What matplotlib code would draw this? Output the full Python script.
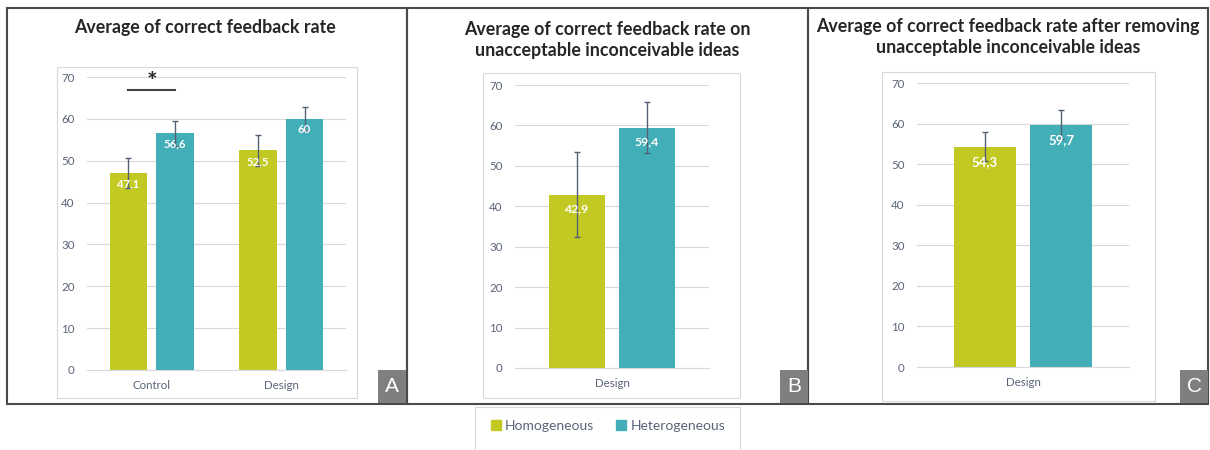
import matplotlib.pyplot as plt
from matplotlib.patches import Rectangle, Patch

# donnees
categories_A = ['Control', 'Design']
homog_A = [47.1, 52.5]
hetero_A = [56.6, 60]
err_homog_A = [3.5, 3.7]
err_hetero_A = [3.0, 2.8]

categories_B = ['Design']
homog_B = [42.9]
hetero_B = [59.4]
err_homog_B = [10.5]
err_hetero_B = [6.3]

categories_C = ['Design']
homog_C = [54.3]
hetero_C = [59.7]
err_homog_C = [3.5]
err_hetero_C = [3.6]

titles = ['Average of correct feedback rate',
          'Average of correct feedback rate on\nunacceptable inconceivable ideas',
          'Average of correct feedback rate after removing\nunacceptable inconceivable ideas']

C_HOM = '#C2C923'
C_HET = '#41AEB8'
C_TXT = '#5a6478'
C_ERR = '#566075'
C_GRID = '#D9D9D9'

W, H = 1210, 450
plt.rcParams['font.family'] = ['Lato', 'DejaVu Sans']

fig = plt.figure(figsize=(W / 100, H / 100), dpi=100)


def fbox(x0, y0, x1, y1):
    # pixels -> coordonnees figure
    return [x0 / W, 1 - y1 / H, (x1 - x0) / W, (y1 - y0) / H]


def rect(x0, y0, x1, y1, **kw):
    b = fbox(x0, y0, x1, y1)
    fig.add_artist(Rectangle((b[0], b[1]), b[2], b[3], transform=fig.transFigure, **kw))


def fmt(v):
    return ('%g' % v).replace('.', ',')


def panel(pos, cats, hom, het, ehom, ehet, lblsize, lbloff):
    ax = fig.add_axes(fbox(*pos))
    x = list(range(len(cats)))
    w, off = 0.29, 0.18
    xh = [i - off for i in x]
    xt = [i + off for i in x]
    ax.bar(xh, hom, w, color=C_HOM, zorder=2, label='Homogeneous')
    ax.bar(xt, het, w, color=C_HET, zorder=2, label='Heterogeneous')
    ax.errorbar(xh, hom, yerr=ehom, fmt='none', ecolor=C_ERR, elinewidth=1, capsize=2.5, zorder=3)
    ax.errorbar(xt, het, yerr=ehet, fmt='none', ecolor=C_ERR, elinewidth=1, capsize=2.5, zorder=3)
    for xs, vals in ((xh, hom), (xt, het)):
        for xi, v in zip(xs, vals):
            ax.annotate(fmt(v), (xi, v), xytext=(0, lbloff), textcoords='offset points',
                        ha='center', va='center', color='white', fontsize=lblsize,
                        fontweight='bold', zorder=4)
    ax.set_xlim(-0.5, len(cats) - 0.5)
    ax.set_ylim(0, 70)
    ax.set_yticks(range(0, 71, 10))
    ax.set_xticks(x)
    ax.set_xticklabels(cats)
    ax.yaxis.grid(True, color=C_GRID, lw=0.8)
    ax.set_axisbelow(True)
    for s in ['top', 'right', 'left']:
        ax.spines[s].set_visible(False)
    ax.spines['bottom'].set_color(C_GRID)
    ax.tick_params(axis='both', length=0, labelsize=8.3, labelcolor=C_TXT)
    ax.tick_params(axis='y', pad=9)
    ax.tick_params(axis='x', pad=7)
    ax.patch.set_alpha(0)
    return ax


# cadres des graphiques (gris clair)
rect(57, 67, 357, 398, fill=False, ec=C_GRID, lw=0.8)
rect(483, 73, 740, 398, fill=False, ec=C_GRID, lw=0.8)
rect(882, 72, 1155, 401, fill=False, ec=C_GRID, lw=0.8)

axA = panel((87, 77, 346, 370), categories_A, homog_A, hetero_A, err_homog_A, err_hetero_A, 8.2, -8)
axB = panel((515, 85, 709, 368), categories_B, homog_B, hetero_B, err_homog_B, err_hetero_B, 8.8, -10)
axC = panel((917, 83, 1129, 367), categories_C, homog_C, hetero_C, err_homog_C, err_hetero_C, 9.5, -11)

# significativite
axA.plot([-0.18, 0.18], [67, 67], color='#404040', lw=1.5, clip_on=False)
axA.text(0, 66.0, '*', ha='center', va='bottom', fontsize=18, fontweight='bold', color='#262626')

# titres
TS = 12.8
fig.text(205 / W, 1 - 28 / H, titles[0], ha='center', va='center', fontsize=TS, fontweight='bold', color='#262626')
fig.text(607 / W, 1 - 40 / H, titles[1], ha='center', va='center', fontsize=TS, fontweight='bold',
         color='#262626', linespacing=1.25)
fig.text(1008 / W, 1 - 37 / H, titles[2], ha='center', va='center', fontsize=TS, fontweight='bold',
         color='#262626', linespacing=1.25)

# cadres des panneaux
for x0, x1 in [(7, 407), (407, 808), (808, 1208)]:
    rect(x0, 8, x1, 404, fill=False, ec='#4a4a4a', lw=1.5)

# lettres A B C
for x0, letter in [(378, 'A'), (780, 'B'), (1180, 'C')]:
    rect(x0, 370, x0 + 28, 403, fc='#7F7F7F', ec='none')
    fig.text((x0 + 14) / W, 1 - 387 / H, letter, ha='center', va='center', color='white',
             fontsize=15, family='Liberation Sans')

# legende
rect(475, 407, 740, 460, fill=False, ec=C_GRID, lw=0.8)
handles = [Patch(color=C_HOM), Patch(color=C_HET)]
fig.legend(handles, ['Homogeneous', 'Heterogeneous'], loc='center', bbox_to_anchor=(608 / W, 1 - 426 / H),
           ncol=2, frameon=False, fontsize=10, handlelength=0.7, handleheight=0.7, handletextpad=0.3,
           columnspacing=1.6, labelcolor=C_TXT)

fig.savefig('out.png', dpi=100)
